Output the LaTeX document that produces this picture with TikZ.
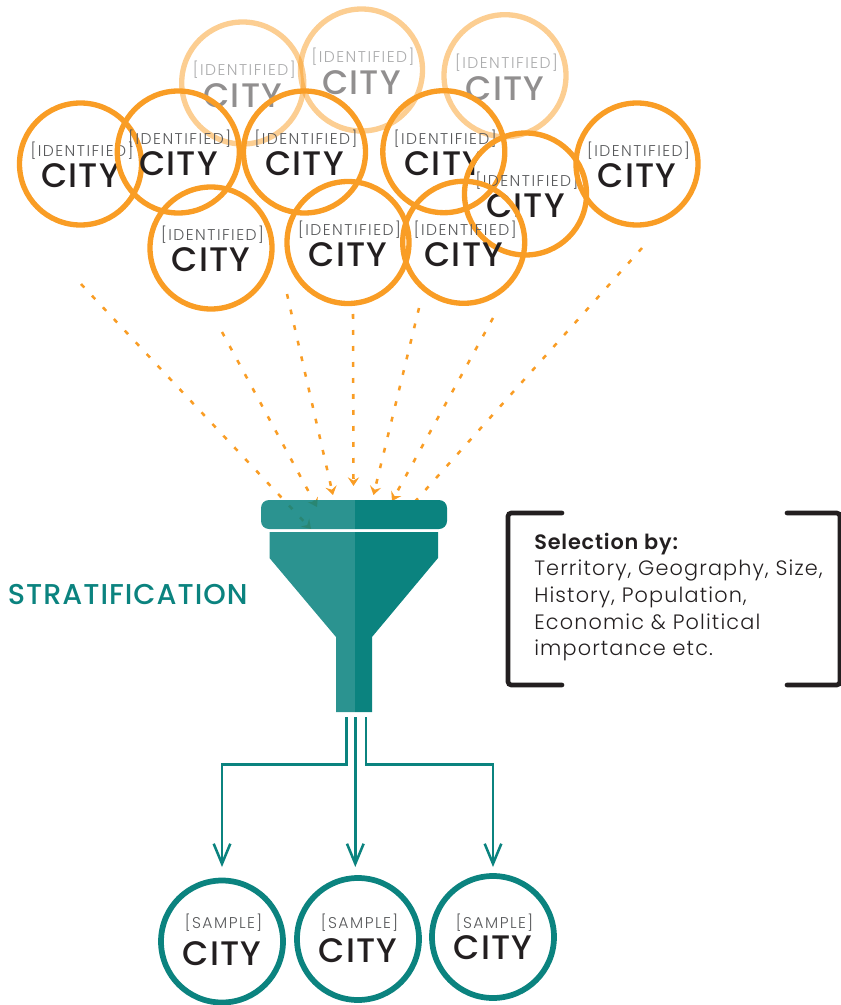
\documentclass[tikz,border=0pt]{standalone}
\usepackage{fontspec}
\setmainfont{Poppins}
\newfontfamily\idfont[LetterSpace=9.5]{Poppins Light}
\newfontfamily\bodyfont[LetterSpace=5.5]{Poppins Light}
\newfontfamily\cityfont[LetterSpace=3.5]{Poppins Medium}
\newfontfamily\stratfont[LetterSpace=3.5]{Poppins Medium}
\newfontfamily\selfont[LetterSpace=4]{Poppins SemiBold}
\usetikzlibrary{arrows.meta}
\definecolor{cteal}{HTML}{0B837F}
\definecolor{corange}{HTML}{F99D25}
\definecolor{cink}{HTML}{231F20}
\definecolor{cgrey}{HTML}{58595B}
\tikzset{
  x=0.75pt,y=-0.75pt,
  cityring/.style={circle,draw=corange,line width=4pt,minimum size=91.5pt,inner sep=0pt},
  fadering/.style={cityring,draw opacity=.5},
  samplering/.style={cityring,draw=cteal,line width=4.3pt},
  idlabel/.style={text=cgrey,font=\idfont\fontsize{11.7}{12}\selectfont},
  citylabel/.style={text=cink,font=\cityfont\fontsize{25.5}{26}\selectfont},
  flow/.style={corange,line width=1.9pt,dash pattern=on 3.6pt off 8.4pt,-{Stealth[length=6.5pt,width=8.5pt,inset=2.4pt]}},
  output/.style={cteal,line width=1.9pt},
  outarrow/.style={output,-{Straight Barb[length=15pt,width=12.5pt,line width=1.9pt]}},
  brack/.style={cink,line width=3.5pt,line cap=round,rounded corners=2.5pt},
  bodytext/.style={anchor=base west,text=cink,font=\bodyfont\fontsize{15.6}{16}\selectfont}
}
% name, style, x, y, text, opacity, id offset, city offset
\newcommand{\citygroup}[8]{%
  \node[#2] (#1) at (#3,#4) {};
  \node[idlabel,opacity=#6] (#1id) at (#3+1.5,#4-#7) {[#5]};
  \node[citylabel,opacity=#6] (#1c) at (#3,#4+#8) {CITY};
}
\begin{document}
\begin{tikzpicture}
\useasboundingbox (0,0) rectangle (841,1005);
% faded
\citygroup{fa}{fadering}{242.7}{83}{IDENTIFIED}{.5}{13}{12.5}
\citygroup{fb}{fadering}{361.5}{70}{IDENTIFIED}{.5}{13}{12.5}
\citygroup{fc}{fadering}{505}{75.7}{IDENTIFIED}{.5}{13}{12.5}
% orange
\citygroup{a}{cityring}{80.5}{164}{IDENTIFIED}{1}{13}{12}
\citygroup{b}{cityring}{178.3}{152}{IDENTIFIED}{1}{13}{12}
\citygroup{c}{cityring}{304.5}{152}{IDENTIFIED}{1}{13}{12}
\citygroup{d}{cityring}{443.8}{151.7}{IDENTIFIED}{1}{13}{12}
\citygroup{e}{cityring}{525.5}{194}{IDENTIFIED}{1}{13}{12}
\citygroup{f}{cityring}{637}{164}{IDENTIFIED}{1}{13}{12}
\citygroup{g}{cityring}{211}{248}{IDENTIFIED}{1}{13}{12}
\citygroup{h}{cityring}{348}{242.5}{IDENTIFIED}{1}{13}{12}
\citygroup{i}{cityring}{463.7}{242.3}{IDENTIFIED}{1}{13}{12}
% flow start and end points
\coordinate (s1) at (81,284);   \coordinate (t1) at (311,529);
\coordinate (s2) at (222,332);  \coordinate (t2) at (317,507);
\coordinate (s3) at (287,294);  \coordinate (t3) at (333,495);
\coordinate (s4) at (353,314);  \coordinate (t4) at (353.5,486);
\coordinate (s5) at (419,308);  \coordinate (t5) at (373.5,495);
\coordinate (s6) at (493,318);  \coordinate (t6) at (392,501);
\coordinate (s7) at (642,248);  \coordinate (t7) at (403,515);
\foreach \n in {1,...,7} \draw[flow] (s\n) -- (t\n);
% funnel
\fill[cteal] (355,500) -- (439,500) arc[start angle=-90,end angle=0,radius=8] -- (447,521)
  arc[start angle=0,end angle=90,radius=8] -- (355,529) -- cycle;
\fill[cteal] (355,532) -- (438,532) -- (438,558) -- (372,637) -- (372,712) -- (355,712) -- cycle;
\fill[cteal,fill opacity=.87] (355,500) -- (269,500) arc[start angle=-90,end angle=-180,radius=8] -- (261,521)
  arc[start angle=180,end angle=90,radius=8] -- (355,529) -- cycle;
\fill[cteal,fill opacity=.87] (355,532) -- (269.5,532) -- (269.5,558) -- (336,637) -- (336,712) -- (355,712) -- cycle;
\node[anchor=west,inner sep=0pt,text=cteal,font=\stratfont\fontsize{21.5}{22}\selectfont] (strat) at (7.5,594.5) {STRATIFICATION};
% bracket
\draw[brack] (562,513) -- (508,513) -- (508,685) -- (562,685);
\draw[brack] (787,513) -- (840,513) -- (840,685) -- (787,685);
\node[bodytext,inner sep=0pt,font=\selfont\fontsize{15.6}{16}\selectfont] (sel) at (534,549) {Selection by:};
\node[bodytext,inner sep=0pt] (l1) at (534,575.5) {Territory, Geography, Size,};
\node[bodytext,inner sep=0pt] (l2) at (534,602.5) {History, Population,};
\node[bodytext,inner sep=0pt] (l3) at (534,629) {Economic \& Political};
\node[bodytext,inner sep=0pt] (l4) at (534,655.5) {importance etc.};
% samples
\citygroup{sa}{samplering}{222}{941.5}{SAMPLE}{1}{18.5}{12.5}
\citygroup{sb}{samplering}{358}{939}{SAMPLE}{1}{16}{11.7}
\citygroup{sc}{samplering}{493}{937}{SAMPLE}{1}{14.5}{11}
% outputs
\coordinate (oa) at (346.5,717); \coordinate (ob) at (355.3,717); \coordinate (oc) at (366,717);
\coordinate (ta) at (222,867); \coordinate (tb) at (355.3,867); \coordinate (tc) at (493,867);
\draw[outarrow] (oa) -- (346.5,764.5) -- (222,764.5) -- (ta);
\draw[outarrow] (ob) -- (tb);
\draw[outarrow] (oc) -- (366,764.5) -- (493,764.5) -- (tc);
\end{tikzpicture}
\end{document}
